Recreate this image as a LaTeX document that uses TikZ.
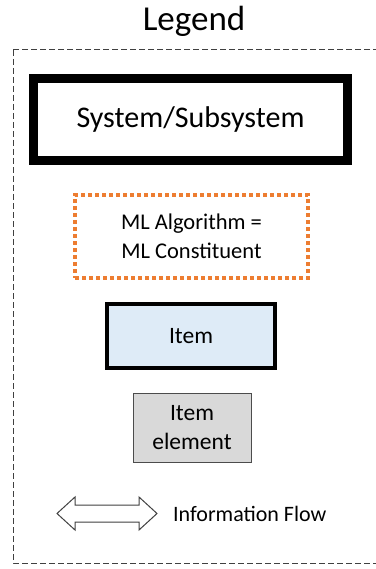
\documentclass[tikz,border=0pt]{standalone}
\usepackage{fontspec}
\setmainfont{Carlito}
\usetikzlibrary{positioning}
\definecolor{mlorange}{HTML}{ED7D31}
\definecolor{itemblue}{HTML}{DEEBF7}
\definecolor{elemgray}{HTML}{D9D9D9}

\begin{document}
\begin{tikzpicture}[x=1pt, y=-1pt,
    sysbox/.style={draw=black, line width=9pt, minimum width=314pt, minimum height=82pt, font=\fontsize{30}{36}\selectfont},
    mlbox/.style={draw=mlorange, line width=4pt, dash pattern=on 4pt off 3pt, minimum width=233pt, minimum height=83pt, align=center, font=\fontsize{22.5}{29}\selectfont},
    itembox/.style={draw=black, fill=itemblue, line width=4pt, minimum width=168pt, minimum height=64pt, font=\fontsize{23.5}{28}\selectfont},
    elembox/.style={draw=black!70, fill=elemgray, line width=1pt, minimum width=118pt, minimum height=69pt, align=center, font=\fontsize{23.5}{29}\selectfont},
    flowarrow/.style={draw=black!75, fill=white, line width=1pt, line join=miter}]
    \useasboundingbox (0,0) rectangle (375,569);
    % legend frame
    \draw[black!75, line width=1pt, dash pattern=on 6pt off 3pt] (13,50) rectangle (385,563);
    \node[font=\fontsize{35}{40}\selectfont] (title) at (194,21) {Legend};
    \node[sysbox] (system) at (190.5,119.5) {System/Subsystem};
    \node[mlbox] (ml) at (191.5,236.5) {ML Algorithm =\\ML Constituent};
    \node[itembox] (item) at (191,336) {Item};
    \node[elembox] (element) at (192,427.5) {Item\\element};
    % hollow double arrow
    \coordinate (flow) at (157,513.5);
    \draw[flowarrow] (57,513.5) -- (75,497) -- (75,505) -- (139,505) -- (139,497)
        -- (flow) -- (139,530) -- (139,522) -- (75,522) -- (75,530) -- cycle;
    \node[right=16pt of flow, anchor=west, inner sep=0pt, font=\fontsize{22}{26}\selectfont] (flowtext) {Information Flow};
\end{tikzpicture}
\end{document}
